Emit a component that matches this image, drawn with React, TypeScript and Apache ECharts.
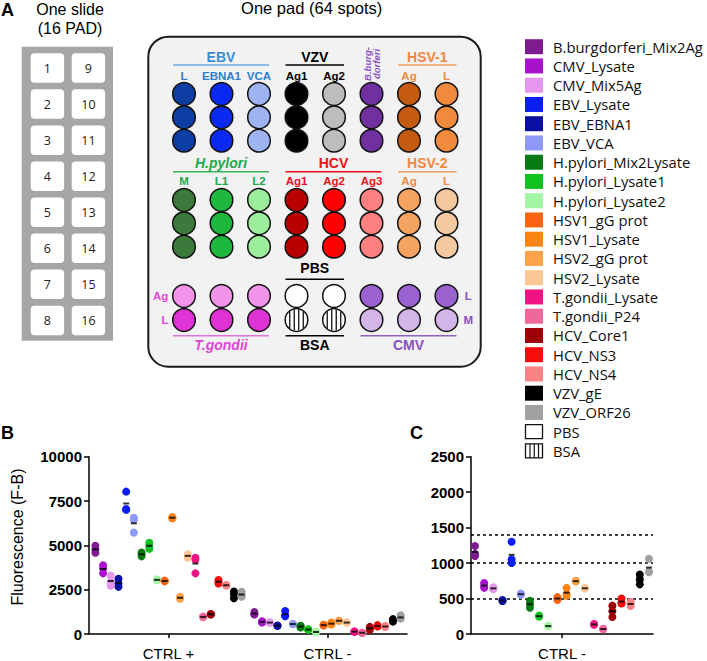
import React, { useEffect, useRef } from "react";
import * as echarts from "echarts";

// ---------- DATA ----------
const legendAntigens = [
  "B.burgdorferi_Mix2Ag", "CMV_Lysate", "CMV_Mix5Ag", "EBV_Lysate", "EBV_EBNA1", "EBV_VCA",
  "H.pylori_Mix2Lysate", "H.pylori_Lysate1", "H.pylori_Lysate2", "HSV1_gG prot", "HSV1_Lysate",
  "HSV2_gG prot", "HSV2_Lysate", "T.gondii_Lysate", "T.gondii_P24", "HCV_Core1", "HCV_NS3",
  "HCV_NS4", "VZV_gE", "VZV_ORF26",
];
const legendColors = [
  "#7d1b8f", "#a812cc", "#e597ee", "#0a1df5", "#0a0fa0", "#8e98f7",
  "#087a14", "#13c21e", "#a3f5a3", "#fb6512", "#fb8414",
  "#fca24a", "#fdc795", "#ee1484", "#f0679a", "#9c0006", "#f80b0b",
  "#fb8383", "#000000", "#a0a0a0",
];
const controlLegend = ["PBS", "BSA"];

const plotAntigens = [
  "B.burgdorferi_Mix2Ag", "CMV_Lysate", "CMV_Mix5Ag", "EBV_EBNA1", "EBV_Lysate", "EBV_VCA",
  "H.pylori_Mix2Lysate", "H.pylori_Lysate1", "H.pylori_Lysate2", "HSV1_gG prot", "HSV1_Lysate",
  "HSV2_gG prot", "HSV2_Lysate", "T.gondii_Lysate", "T.gondii_P24", "HCV_Core1", "HCV_NS3",
  "HCV_NS4", "VZV_gE", "VZV_ORF26",
];
const controlCategories = ["CTRL +", "CTRL -"];
const ctrlPositiveValues = [
  [4980, 4760, 4580], [3880, 3700, 3420], [3300, 2950, 2720], [3120, 2850, 2660],
  [8030, 7050, 7000], [6560, 6450, 5720], [4600, 4500, 4380], [5150, 4980, 4800],
  [3080, 3050, 3030], [3010, 2990, 2970], [6600, 6560, 6520], [2100, 2040, 1990],
  [4500, 4420, 4300], [4300, 4200, 3420], [980, 960, 950], [1130, 1110, 1100],
  [3050, 2950, 2850], [2760, 2750, 2740], [2400, 2250, 2020], [2380, 2200, 2100],
];
const ctrlNegativeValues = [
  [1240, 1130, 1100], [720, 680, 650], [660, 640, 630], [480, 470, 465],
  [1300, 1050, 1000], [570, 560, 555], [470, 420, 370], [260, 250, 245],
  [115, 112, 108], [520, 500, 480], [650, 560, 540], [750, 745, 740],
  [650, 645, 640], [140, 136, 130], [75, 70, 66], [400, 320, 240],
  [500, 440, 430], [455, 420, 395], [840, 770, 700], [1060, 880, 870],
];
const panelBTicks = [0, 2500, 5000, 7500, 10000];
const panelCTicks = [0, 500, 1000, 1500, 2000, 2500];
const cutoffLevels = [500, 1000, 1400];
const slidePadNumbers = [1, 2, 3, 4, 5, 6, 7, 8, 9, 10, 11, 12, 13, 14, 15, 16];

// ---------- LAYOUT / STYLE ----------
const SANS = '"Liberation Sans", Arial, sans-serif';
const LEG = '"Open Sans", "Noto Sans", sans-serif';

function txt(text: string, x: number, y: number, o: any = {}) {
  return {
    type: "text",
    x,
    y,
    rotation: o.rotation || 0,
    z: 20,
    silent: true,
    style: {
      text,
      fill: o.color || "#000",
      fontSize: o.size || 14,
      fontWeight: o.weight || "normal",
      fontStyle: o.italic ? "italic" : "normal",
      fontFamily: o.family || SANS,
      textAlign: o.align || "center",
      textVerticalAlign: "middle",
      align: o.align || "center",
      verticalAlign: "middle",
      lineHeight: o.lineHeight,
    },
  };
}
function line(x1: number, y1: number, x2: number, y2: number, color: string, w = 1.5) {
  return { type: "line", z: 15, silent: true, shape: { x1, y1, x2, y2 }, style: { stroke: color, lineWidth: w } };
}

function buildGraphics() {
  const g: any[] = [];
  // Panel letters
  g.push(txt("A", 1, 10, { size: 18, weight: "bold", align: "left" }));
  g.push(txt("B", 1, 433, { size: 18, weight: "bold", align: "left" }));
  g.push(txt("C", 410, 433, { size: 18, weight: "bold", align: "left" }));

  // Slide
  g.push(txt("One slide", 70, 9, { size: 16 }));
  g.push(txt("(16 PAD)", 70, 28, { size: 16 }));
  g.push({ type: "rect", silent: true, z: 1, shape: { x: 21.7, y: 46.7, width: 91.3, height: 294 }, style: { fill: "#a6a6a6" } });
  slidePadNumbers.forEach((n, k) => {
    const col = Math.floor(k / 8);
    const row = k % 8;
    const x = col === 0 ? 30.7 : 71.7;
    const y = 53.3 + row * 36.05;
    g.push({ type: "rect", silent: true, z: 2, shape: { x, y, width: 33.4, height: 29.5, r: 4 }, style: { fill: "#ffffff" } });
    g.push(txt(String(n), x + 16.7, y + 15, { size: 12.5, family: LEG, color: "#222" }));
  });

  // Pad
  g.push(txt("One pad (64 spots)", 311.7, 8, { size: 16.5 }));
  g.push({ type: "rect", silent: true, z: 1, shape: { x: 148.3, y: 36.7, width: 332.4, height: 330, r: 20 }, style: { fill: "#f2f2f2", stroke: "#1a1a1a", lineWidth: 2 } });

  const colX = (c: number) => 184 + c * 37.5;
  const R = 11.3;
  const topColors = ["#0d3ea3", "#0a2af2", "#9db3f2", "#000000", "#bdbdbd", "#7030a0", "#c55a11", "#f08a3c"];
  const midColors = ["#3b7a3b", "#1db83d", "#9cee9c", "#b80000", "#ff0000", "#ff8080", "#f4a460", "#f5c9a0"];
  const bot1 = ["#f295ea", "#f295ea", "#f295ea", "PBS", "PBS", "#9b62d1", "#9b62d1", "#9b62d1"];
  const bot2 = ["#e033d6", "#e033d6", "#e033d6", "BSA", "BSA", "#d3b5ea", "#d3b5ea", "#d3b5ea"];
  const rowsSpec: [number[], string[]][] = [
    [[94, 117.3, 140.7], topColors],
    [[200, 223.3, 246.7], midColors],
    [[296], bot1],
    [[320], bot2],
  ];
  rowsSpec.forEach(([ys, cols]) => {
    ys.forEach((y) => {
      cols.forEach((c, ci) => {
        const cx = colX(ci);
        const fill = c === "PBS" || c === "BSA" ? "#ffffff" : c;
        g.push({ type: "circle", silent: true, z: 5, shape: { cx, cy: y, r: R }, style: { fill, stroke: "#111", lineWidth: 1.5 } });
        if (c === "BSA") {
          [-6.75, -2.25, 2.25, 6.75].forEach((dx) => {
            const h = Math.sqrt(R * R - dx * dx) - 0.6;
            g.push({ type: "line", silent: true, z: 6, shape: { x1: cx + dx, y1: y - h, x2: cx + dx, y2: y + h }, style: { stroke: "#111", lineWidth: 1.3 } });
          });
        }
      });
    });
  });

  const header = (text: string, c1: number, c2: number, ty: number, ly: number, color: string, lcolor: string, italic = false) => {
    const x1 = colX(c1) - 11;
    const x2 = colX(c2) + 10;
    g.push(txt(text, (x1 + x2) / 2, ty, { size: 14, weight: "bold", color, italic }));
    g.push(line(x1, ly, x2, ly, lcolor, 1.5));
  };
  header("EBV", 0, 2, 57.3, 65, "#3c8dd4", "#6aaae0");
  header("VZV", 3, 4, 57.3, 65, "#000", "#000");
  header("HSV-1", 6, 7, 57.3, 65, "#f0883e", "#f4a060");
  header("H.pylori", 0, 2, 163.3, 171.7, "#22a84a", "#3cb05a", true);
  header("HCV", 3, 5, 163.3, 171.7, "#e8101a", "#e8101a");
  header("HSV-2", 6, 7, 163.3, 171.7, "#f0883e", "#f4a060");
  header("PBS", 3, 4, 268.3, 279.3, "#000", "#000");

  const sub = (labels: string[], startCol: number, y: number, color: string) =>
    labels.forEach((l, k) => g.push(txt(l, colX(startCol + k), y, { size: 11.5, weight: "bold", color })));
  sub(["L", "EBNA1", "VCA"], 0, 76, "#2e7fcc");
  sub(["Ag1", "Ag2"], 3, 76, "#000");
  sub(["Ag", "L"], 6, 76, "#f0883e");
  sub(["M", "L1", "L2"], 0, 181, "#22a84a");
  sub(["Ag1", "Ag2", "Ag3"], 3, 181, "#e8101a");
  sub(["Ag", "L"], 6, 181, "#f0883e");

  g.push(txt("B.burg-\ndorferi", colX(5), 64, { size: 9.5, weight: "bold", italic: true, color: "#8a50c8", rotation: Math.PI / 2, lineHeight: 9 }));

  // Bottom group footers
  const footer = (text: string, c1: number, c2: number, color: string, lcolor: string, italic = false) => {
    const x1 = colX(c1) - 11;
    const x2 = colX(c2) + 10;
    g.push(line(x1, 335.7, x2, 335.7, lcolor, 1.5));
    g.push(txt(text, (x1 + x2) / 2, 345, { size: 14, weight: "bold", color, italic }));
  };
  footer("T.gondii", 0, 2, "#e046d8", "#e070e0", true);
  footer("BSA", 3, 4, "#000", "#000");
  footer("CMV", 5, 7, "#8850c0", "#9060c8");
  g.push(txt("Ag", 160.7, 296, { size: 11.5, weight: "bold", color: "#e046d8" }));
  g.push(txt("L", 165, 320, { size: 11.5, weight: "bold", color: "#e046d8" }));
  g.push(txt("L", 468.3, 296, { size: 11.5, weight: "bold", color: "#8850c0" }));
  g.push(txt("M", 468.3, 320, { size: 11.5, weight: "bold", color: "#8850c0" }));

  // Legend
  const legendItems = [...legendAntigens, ...controlLegend];
  legendItems.forEach((name, k) => {
    const y = 46.7 + k * 19.25;
    const idx = legendAntigens.indexOf(name);
    if (idx >= 0) {
      g.push({ type: "rect", silent: true, z: 5, shape: { x: 525, y: y - 7.5, width: 18, height: 15 }, style: { fill: legendColors[idx] } });
    } else {
      g.push({ type: "rect", silent: true, z: 5, shape: { x: 525.5, y: y - 7, width: 17, height: 14 }, style: { fill: "#fff", stroke: "#111", lineWidth: 1.3 } });
      if (name === "BSA") {
        [4.5, 8.75, 13].forEach((dx) =>
          g.push({ type: "line", silent: true, z: 6, shape: { x1: 525.5 + dx, y1: y - 7, x2: 525.5 + dx, y2: y + 7 }, style: { stroke: "#111", lineWidth: 1.2 } })
        );
      }
    }
    g.push(txt(name, 553, y, { size: 14.8, family: LEG, align: "left", color: "#111" }));
  });

  // Y axis title panel B
  g.push(txt("Fluorescence (F-B)", 17.5, 537, { size: 16, rotation: Math.PI / 2 }));
  return g;
}

function mean(a: number[]) {
  return a.reduce((s, v) => s + v, 0) / a.length;
}

function buildOption() {
  const axisLine = { show: true, onZero: false, lineStyle: { color: "#000", width: 1.5 } };
  const yLabel = { color: "#000", fontFamily: SANS, fontWeight: "bold", fontSize: 15, margin: 7, formatter: (v: number) => String(v) };
  const xLabel = { color: "#000", fontFamily: SANS, fontSize: 15, margin: 12 };
  const series: any[] = [];
  const n = plotAntigens.length;
  const meanB: number[][] = [];
  const meanC: number[][] = [];
  plotAntigens.forEach((name, i) => {
    const color = legendColors[legendAntigens.indexOf(name)];
    const offB = (i - (n - 1) / 2) * 0.0484;
    const offC = (i - (n - 1) / 2) * 0.0503;
    series.push({
      type: "scatter", name, xAxisIndex: 1, yAxisIndex: 0, symbolSize: 8, z: 2,
      itemStyle: { color, opacity: 1 },
      data: [
        ...ctrlPositiveValues[i].map((v) => [0.5 + offB, v]),
        ...ctrlNegativeValues[i].map((v) => [1.5 + offB, v]),
      ],
    });
    const cs: any = {
      type: "scatter", name: name + " C", xAxisIndex: 3, yAxisIndex: 1, symbolSize: 8, z: 2,
      itemStyle: { color, opacity: 1 },
      data: ctrlNegativeValues[i].map((v) => [offC, v]),
    };
    if (i === 0) {
      cs.markLine = {
        silent: true, symbol: ["none", "none"], label: { show: false }, z: 1,
        lineStyle: { color: "#000", width: 1.5, type: [3, 3] },
        data: cutoffLevels.map((v) => ({ yAxis: v })),
      };
    }
    series.push(cs);
    meanB.push([0.5 + offB, mean(ctrlPositiveValues[i])]);
    meanB.push([1.5 + offB, mean(ctrlNegativeValues[i])]);
    meanC.push([offC, mean(ctrlNegativeValues[i])]);
  });
  series.push({ type: "scatter", xAxisIndex: 1, yAxisIndex: 0, symbol: "rect", symbolSize: [6, 2], z: 5, itemStyle: { color: "#000" }, data: meanB });
  series.push({ type: "scatter", xAxisIndex: 3, yAxisIndex: 1, symbol: "rect", symbolSize: [6, 2], z: 5, itemStyle: { color: "#000" }, data: meanC });

  const tick = { show: true, alignWithLabel: true, length: 4, lineStyle: { color: "#000", width: 1.5 } };
  return {
    animation: false,
    backgroundColor: "#ffffff",
    graphic: { elements: buildGraphics() },
    grid: [
      { left: 89, top: 456.7, width: 318, height: 179.3 },
      { left: 471, top: 456.7, width: 182, height: 178.3 },
    ],
    xAxis: [
      {
        type: "category", gridIndex: 0, data: controlCategories, boundaryGap: true,
        axisLine, axisTick: tick, axisLabel: xLabel, splitLine: { show: false },
      },
      { type: "value", gridIndex: 0, min: 0, max: 2, show: false, axisLine: { onZero: false } },
      {
        type: "category", gridIndex: 1, data: [controlCategories[1]], boundaryGap: true,
        axisLine, axisTick: tick, axisLabel: xLabel, splitLine: { show: false },
      },
      { type: "value", gridIndex: 1, min: -0.5, max: 0.5, show: false, axisLine: { onZero: false } },
    ],
    yAxis: [
      {
        type: "value", gridIndex: 0, min: panelBTicks[0], max: panelBTicks[panelBTicks.length - 1],
        interval: panelBTicks[1] - panelBTicks[0], axisLine,
        axisTick: { show: true, length: 5, lineStyle: { color: "#000", width: 1.5 } },
        axisLabel: yLabel, splitLine: { show: false },
      },
      {
        type: "value", gridIndex: 1, min: panelCTicks[0], max: panelCTicks[panelCTicks.length - 1],
        interval: panelCTicks[1] - panelCTicks[0], axisLine,
        axisTick: { show: true, length: 5, lineStyle: { color: "#000", width: 1.5 } },
        axisLabel: yLabel, splitLine: { show: false },
      },
    ],
    series,
  };
}

export default function App() {
  const ref = useRef<HTMLDivElement>(null);
  useEffect(() => {
    const chart = echarts.init(ref.current!, null, { renderer: "svg" });
    chart.setOption(buildOption() as any);
    return () => chart.dispose();
  }, []);
  return (
    <div
      ref={ref}
      style={{ position: "fixed", left: 0, top: 0, width: 707, height: 661, background: "#fff" }}
    />
  );
}
